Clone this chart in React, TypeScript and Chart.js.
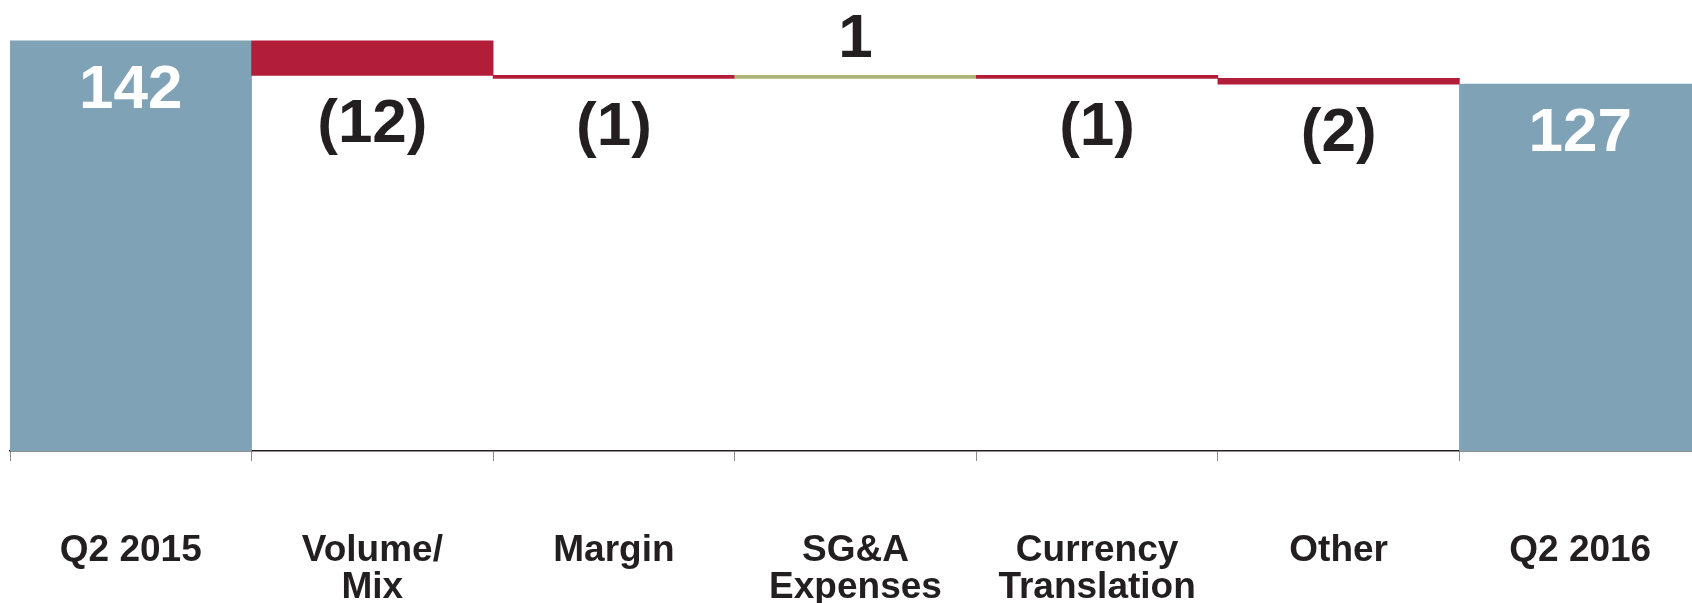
import React, { useEffect, useRef } from "react";
import { Chart, registerables } from "chart.js";

Chart.register(...registerables);

const categories = [
  ["Q2 2015"],
  ["Volume/", "Mix"],
  ["Margin"],
  ["SG&A", "Expenses"],
  ["Currency", "Translation"],
  ["Other"],
  ["Q2 2016"],
];
const barStart = [0, 142, 130, 129, 130, 129, 0];
const barEnd = [142, 130, 129, 130, 129, 127, 127];
const valueLabels = ["142", "(12)", "(1)", "1", "(1)", "(2)", "127"];
const barKinds = ["total", "decrease", "decrease", "increase", "decrease", "decrease", "total"];
const yMin = 0;
const yMax = 153;

const kindColors: Record<string, string> = {
  total: "#7fa2b6",
  decrease: "#b21e3a",
  increase: "#adb57b",
};

const FONT = "'Liberation Sans', Arial, Helvetica, sans-serif";

const labelPlugin = {
  id: "wfLabels",
  afterDatasetsDraw(chart: any) {
    const ctx = chart.ctx as CanvasRenderingContext2D;
    const meta = chart.getDatasetMeta(0);
    ctx.save();
    ctx.font = `bold 62px ${FONT}`;
    ctx.textAlign = "center";
    ctx.textBaseline = "alphabetic";
    meta.data.forEach((el: any, i: number) => {
      const { x, y, base } = el.getProps(["x", "y", "base"], true);
      const top = Math.min(y, base);
      const bottom = Math.max(y, base);
      const kind = barKinds[i];
      let by: number;
      if (kind === "total") {
        ctx.fillStyle = "#ffffff";
        by = top + 67;
      } else if (kind === "decrease") {
        ctx.fillStyle = "#231f20";
        by = bottom + 67;
      } else {
        ctx.fillStyle = "#231f20";
        by = top - 18;
      }
      ctx.fillText(valueLabels[i], x, by);
    });
    ctx.restore();
  },
};

export default function App() {
  const ref = useRef<HTMLCanvasElement>(null);
  useEffect(() => {
    const chart = new Chart(ref.current!, {
      type: "bar",
      data: {
        labels: categories as any,
        datasets: [
          {
            data: barStart.map((s, i) => [s, barEnd[i]]) as any,
            backgroundColor: barKinds.map((k) => kindColors[k]),
            borderWidth: 0,
            categoryPercentage: 1,
            barPercentage: 1,
            borderSkipped: false,
          },
        ],
      },
      options: {
        responsive: false,
        animation: false,
        devicePixelRatio: 1,
        layout: { padding: { left: 2, right: 7, top: 1, bottom: 0 } },
        plugins: { legend: { display: false }, tooltip: { enabled: false } },
        scales: {
          x: {
            offset: true,
            grid: {
              display: true,
              offset: true,
              drawOnChartArea: false,
              drawTicks: true,
              tickLength: 10,
              color: "#8a8a8a",
              lineWidth: 1,
            },
            border: { display: true, color: "#231f20", width: 1.5 },
            ticks: {
              autoSkip: false,
              maxRotation: 0,
              minRotation: 0,
              padding: 71,
              color: "#231f20",
              font: { family: FONT, size: 37, weight: "bold", lineHeight: 1.0 },
            },
            afterFit: (s: any) => {
              s.height = 152;
              s.paddingLeft = 0;
              s.paddingRight = 0;
            },
          },
          y: { display: false, min: yMin, max: yMax },
        },
      },
      plugins: [labelPlugin],
    } as any);
    return () => chart.destroy();
  }, []);
  return (
    <div
      style={{
        position: "fixed",
        left: 8,
        top: 8,
        width: 1684,
        height: 595,
        overflow: "hidden",
      }}
    >
      <canvas ref={ref} width={1700} height={595} style={{ display: "block" }} />
    </div>
  );
}
